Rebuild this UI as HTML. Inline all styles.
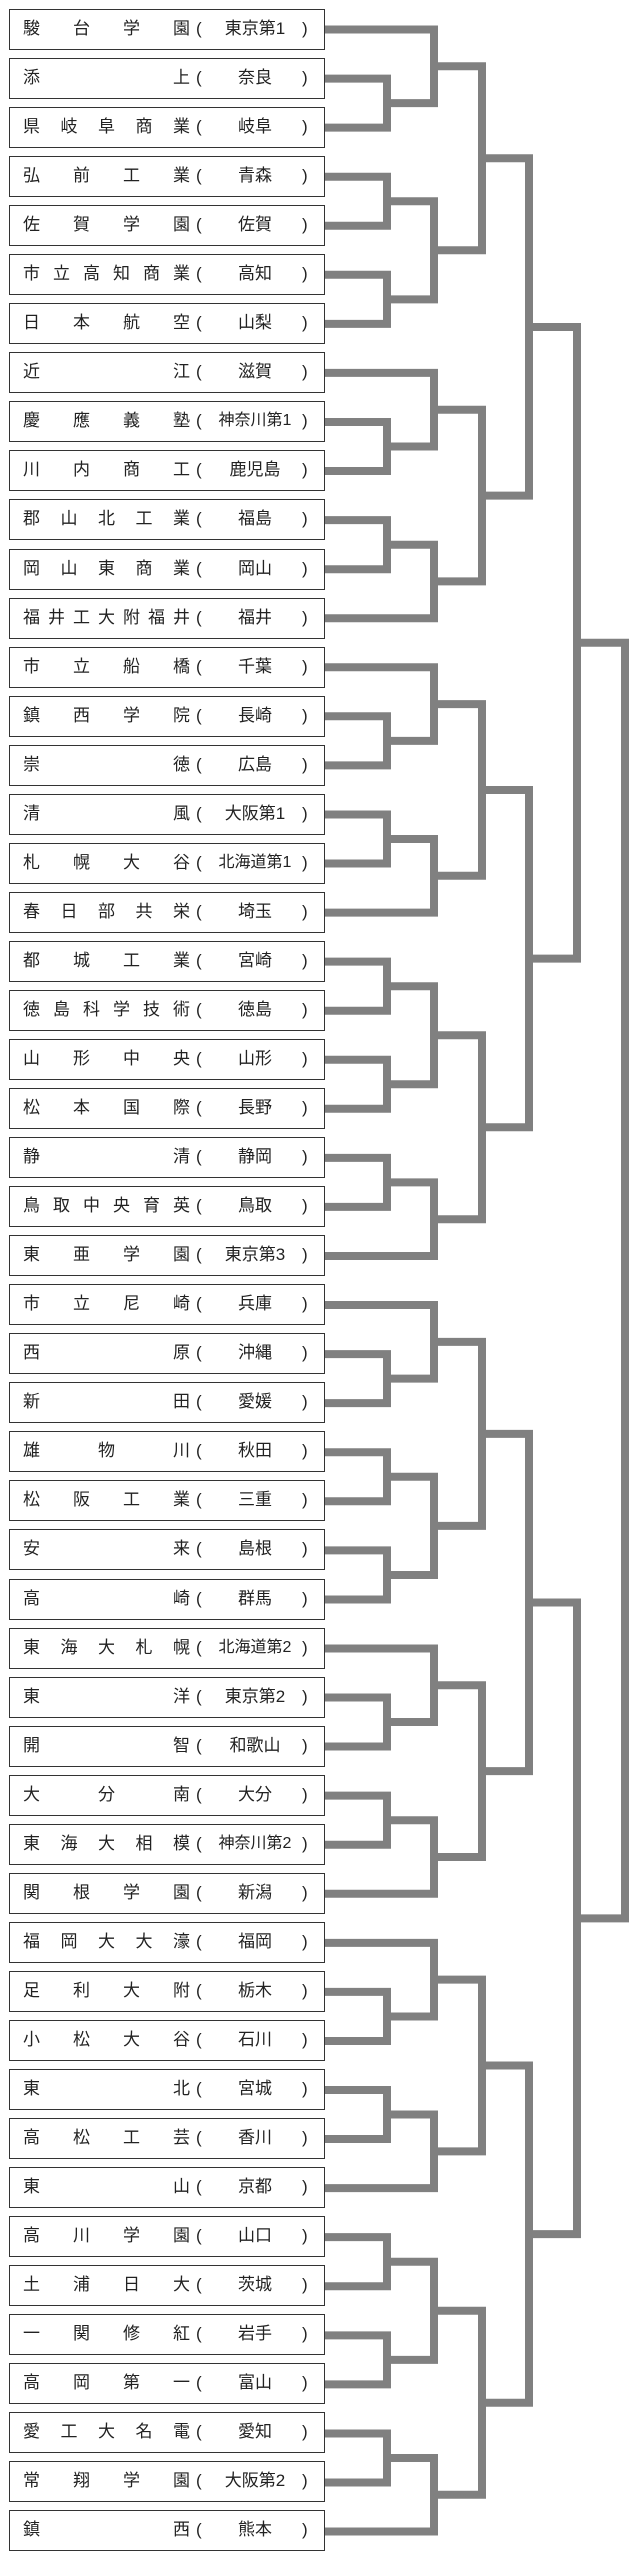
<!DOCTYPE html>
<html><head><meta charset="utf-8">
<style>
html,body{margin:0;padding:0;background:#fff;}
body{width:640px;height:2560px;position:relative;overflow:hidden;font-family:"Liberation Sans","Noto Sans CJK JP",sans-serif;color:#222;}
#boxes{position:absolute;left:9px;top:9px;width:316px;}
.b{position:relative;box-sizing:border-box;height:41px;margin-bottom:8.06px;border:1.5px solid #333;background:#fff;font-size:17px;line-height:38px;}
.n{position:absolute;left:13px;width:167px;top:0;display:flex;justify-content:space-between;}
.n i{font-style:normal;}
.l{position:absolute;left:186px;top:0;}
.r{position:absolute;left:292px;top:0;}
.p{position:absolute;left:200px;width:90px;top:0;text-align:center;}
.p.s{font-size:16px;letter-spacing:0px;}
svg{position:absolute;left:0;top:0;}
</style></head><body>
<svg width="640" height="2560" viewBox="0 0 640 2560">
<g id="top" fill="none" stroke="#808080" stroke-width="8" stroke-linejoin="miter">
<path d="M325 78.6H387V127.6H325"/>
<path d="M325 29.5H434V103.1H387"/>
<path d="M325 176.7H387V225.7H325"/>
<path d="M325 274.8H387V323.9H325"/>
<path d="M387 201.2H434V299.4H387"/>
<path d="M434 66.3H482V250.3H434"/>
<path d="M325 422H387V471H325"/>
<path d="M325 372.9H434V446.5H387"/>
<path d="M325 520.1H387V569.2H325"/>
<path d="M387 544.7H434V618.2H325"/>
<path d="M434 409.7H482V581.4H434"/>
<path d="M482 158.3H529V495.6H482"/>
<path d="M325 716.3H387V765.4H325"/>
<path d="M325 667.3H434V740.9H387"/>
<path d="M325 814.5H387V863.5H325"/>
<path d="M387 839H434V912.6H325"/>
<path d="M434 704.1H482V875.8H434"/>
<path d="M325 961.6H387V1010.7H325"/>
<path d="M325 1059.8H387V1108.8H325"/>
<path d="M387 986.2H434V1084.3H387"/>
<path d="M325 1157.9H387V1206.9H325"/>
<path d="M387 1182.4H434V1256H325"/>
<path d="M434 1035.2H482V1219.2H434"/>
<path d="M482 790H529V1127.2H482"/>
<path d="M529 327H577V958.6H529"/>
</g>
<use href="#top" transform="translate(0,1275.56)"/>
<path d="M577 642.8H625V1918.4H577" fill="none" stroke="#808080" stroke-width="8"/>
</svg>
<div id="boxes">
<div class="b"><span class="n"><i>駿</i><i>台</i><i>学</i><i>園</i></span><span class="l">(</span><span class="p">東京第1</span><span class="r">)</span></div>
<div class="b"><span class="n"><i>添</i><i>上</i></span><span class="l">(</span><span class="p">奈良</span><span class="r">)</span></div>
<div class="b"><span class="n"><i>県</i><i>岐</i><i>阜</i><i>商</i><i>業</i></span><span class="l">(</span><span class="p">岐阜</span><span class="r">)</span></div>
<div class="b"><span class="n"><i>弘</i><i>前</i><i>工</i><i>業</i></span><span class="l">(</span><span class="p">青森</span><span class="r">)</span></div>
<div class="b"><span class="n"><i>佐</i><i>賀</i><i>学</i><i>園</i></span><span class="l">(</span><span class="p">佐賀</span><span class="r">)</span></div>
<div class="b"><span class="n"><i>市</i><i>立</i><i>高</i><i>知</i><i>商</i><i>業</i></span><span class="l">(</span><span class="p">高知</span><span class="r">)</span></div>
<div class="b"><span class="n"><i>日</i><i>本</i><i>航</i><i>空</i></span><span class="l">(</span><span class="p">山梨</span><span class="r">)</span></div>
<div class="b"><span class="n"><i>近</i><i>江</i></span><span class="l">(</span><span class="p">滋賀</span><span class="r">)</span></div>
<div class="b"><span class="n"><i>慶</i><i>應</i><i>義</i><i>塾</i></span><span class="l">(</span><span class="p s">神奈川第1</span><span class="r">)</span></div>
<div class="b"><span class="n"><i>川</i><i>内</i><i>商</i><i>工</i></span><span class="l">(</span><span class="p">鹿児島</span><span class="r">)</span></div>
<div class="b"><span class="n"><i>郡</i><i>山</i><i>北</i><i>工</i><i>業</i></span><span class="l">(</span><span class="p">福島</span><span class="r">)</span></div>
<div class="b"><span class="n"><i>岡</i><i>山</i><i>東</i><i>商</i><i>業</i></span><span class="l">(</span><span class="p">岡山</span><span class="r">)</span></div>
<div class="b"><span class="n"><i>福</i><i>井</i><i>工</i><i>大</i><i>附</i><i>福</i><i>井</i></span><span class="l">(</span><span class="p">福井</span><span class="r">)</span></div>
<div class="b"><span class="n"><i>市</i><i>立</i><i>船</i><i>橋</i></span><span class="l">(</span><span class="p">千葉</span><span class="r">)</span></div>
<div class="b"><span class="n"><i>鎮</i><i>西</i><i>学</i><i>院</i></span><span class="l">(</span><span class="p">長崎</span><span class="r">)</span></div>
<div class="b"><span class="n"><i>崇</i><i>徳</i></span><span class="l">(</span><span class="p">広島</span><span class="r">)</span></div>
<div class="b"><span class="n"><i>清</i><i>風</i></span><span class="l">(</span><span class="p">大阪第1</span><span class="r">)</span></div>
<div class="b"><span class="n"><i>札</i><i>幌</i><i>大</i><i>谷</i></span><span class="l">(</span><span class="p s">北海道第1</span><span class="r">)</span></div>
<div class="b"><span class="n"><i>春</i><i>日</i><i>部</i><i>共</i><i>栄</i></span><span class="l">(</span><span class="p">埼玉</span><span class="r">)</span></div>
<div class="b"><span class="n"><i>都</i><i>城</i><i>工</i><i>業</i></span><span class="l">(</span><span class="p">宮崎</span><span class="r">)</span></div>
<div class="b"><span class="n"><i>徳</i><i>島</i><i>科</i><i>学</i><i>技</i><i>術</i></span><span class="l">(</span><span class="p">徳島</span><span class="r">)</span></div>
<div class="b"><span class="n"><i>山</i><i>形</i><i>中</i><i>央</i></span><span class="l">(</span><span class="p">山形</span><span class="r">)</span></div>
<div class="b"><span class="n"><i>松</i><i>本</i><i>国</i><i>際</i></span><span class="l">(</span><span class="p">長野</span><span class="r">)</span></div>
<div class="b"><span class="n"><i>静</i><i>清</i></span><span class="l">(</span><span class="p">静岡</span><span class="r">)</span></div>
<div class="b"><span class="n"><i>鳥</i><i>取</i><i>中</i><i>央</i><i>育</i><i>英</i></span><span class="l">(</span><span class="p">鳥取</span><span class="r">)</span></div>
<div class="b"><span class="n"><i>東</i><i>亜</i><i>学</i><i>園</i></span><span class="l">(</span><span class="p">東京第3</span><span class="r">)</span></div>
<div class="b"><span class="n"><i>市</i><i>立</i><i>尼</i><i>崎</i></span><span class="l">(</span><span class="p">兵庫</span><span class="r">)</span></div>
<div class="b"><span class="n"><i>西</i><i>原</i></span><span class="l">(</span><span class="p">沖縄</span><span class="r">)</span></div>
<div class="b"><span class="n"><i>新</i><i>田</i></span><span class="l">(</span><span class="p">愛媛</span><span class="r">)</span></div>
<div class="b"><span class="n"><i>雄</i><i>物</i><i>川</i></span><span class="l">(</span><span class="p">秋田</span><span class="r">)</span></div>
<div class="b"><span class="n"><i>松</i><i>阪</i><i>工</i><i>業</i></span><span class="l">(</span><span class="p">三重</span><span class="r">)</span></div>
<div class="b"><span class="n"><i>安</i><i>来</i></span><span class="l">(</span><span class="p">島根</span><span class="r">)</span></div>
<div class="b"><span class="n"><i>高</i><i>崎</i></span><span class="l">(</span><span class="p">群馬</span><span class="r">)</span></div>
<div class="b"><span class="n"><i>東</i><i>海</i><i>大</i><i>札</i><i>幌</i></span><span class="l">(</span><span class="p s">北海道第2</span><span class="r">)</span></div>
<div class="b"><span class="n"><i>東</i><i>洋</i></span><span class="l">(</span><span class="p">東京第2</span><span class="r">)</span></div>
<div class="b"><span class="n"><i>開</i><i>智</i></span><span class="l">(</span><span class="p">和歌山</span><span class="r">)</span></div>
<div class="b"><span class="n"><i>大</i><i>分</i><i>南</i></span><span class="l">(</span><span class="p">大分</span><span class="r">)</span></div>
<div class="b"><span class="n"><i>東</i><i>海</i><i>大</i><i>相</i><i>模</i></span><span class="l">(</span><span class="p s">神奈川第2</span><span class="r">)</span></div>
<div class="b"><span class="n"><i>関</i><i>根</i><i>学</i><i>園</i></span><span class="l">(</span><span class="p">新潟</span><span class="r">)</span></div>
<div class="b"><span class="n"><i>福</i><i>岡</i><i>大</i><i>大</i><i>濠</i></span><span class="l">(</span><span class="p">福岡</span><span class="r">)</span></div>
<div class="b"><span class="n"><i>足</i><i>利</i><i>大</i><i>附</i></span><span class="l">(</span><span class="p">栃木</span><span class="r">)</span></div>
<div class="b"><span class="n"><i>小</i><i>松</i><i>大</i><i>谷</i></span><span class="l">(</span><span class="p">石川</span><span class="r">)</span></div>
<div class="b"><span class="n"><i>東</i><i>北</i></span><span class="l">(</span><span class="p">宮城</span><span class="r">)</span></div>
<div class="b"><span class="n"><i>高</i><i>松</i><i>工</i><i>芸</i></span><span class="l">(</span><span class="p">香川</span><span class="r">)</span></div>
<div class="b"><span class="n"><i>東</i><i>山</i></span><span class="l">(</span><span class="p">京都</span><span class="r">)</span></div>
<div class="b"><span class="n"><i>高</i><i>川</i><i>学</i><i>園</i></span><span class="l">(</span><span class="p">山口</span><span class="r">)</span></div>
<div class="b"><span class="n"><i>土</i><i>浦</i><i>日</i><i>大</i></span><span class="l">(</span><span class="p">茨城</span><span class="r">)</span></div>
<div class="b"><span class="n"><i>一</i><i>関</i><i>修</i><i>紅</i></span><span class="l">(</span><span class="p">岩手</span><span class="r">)</span></div>
<div class="b"><span class="n"><i>高</i><i>岡</i><i>第</i><i>一</i></span><span class="l">(</span><span class="p">富山</span><span class="r">)</span></div>
<div class="b"><span class="n"><i>愛</i><i>工</i><i>大</i><i>名</i><i>電</i></span><span class="l">(</span><span class="p">愛知</span><span class="r">)</span></div>
<div class="b"><span class="n"><i>常</i><i>翔</i><i>学</i><i>園</i></span><span class="l">(</span><span class="p">大阪第2</span><span class="r">)</span></div>
<div class="b"><span class="n"><i>鎮</i><i>西</i></span><span class="l">(</span><span class="p">熊本</span><span class="r">)</span></div>
</div>
</body></html>
